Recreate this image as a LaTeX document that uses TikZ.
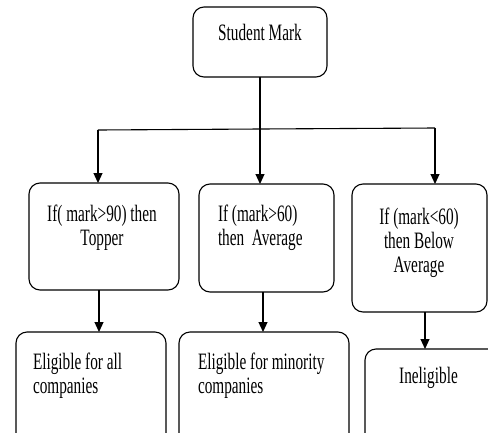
\documentclass[tikz,border=0pt]{standalone}
\usepackage{fontspec}
\setmainfont{Liberation Serif}
\newfontfamily\tallserif[FakeStretch=0.65]{Liberation Serif}
\usetikzlibrary{arrows.meta}
\begin{document}
\begin{tikzpicture}[x=1pt,y=-1pt,
  box/.style={draw,line width=1.1pt,rounded corners=11pt,inner sep=0pt,outer sep=0pt,fill=white},
  lbl/.style={font=\tallserif\fontsize{23.5}{24}\selectfont,inner sep=0pt,outer sep=0pt},
  conn/.style={line width=1.1pt},
  arr/.style={line width=1.1pt,-{Triangle[length=10pt,width=9pt]}}]
\clip (0,0) rectangle (488,432);
\fill[white] (0,0) rectangle (488,432);
% boxes
\node[box,minimum width=134pt,minimum height=70pt] (sm) at (260,42) {};
\node[box,minimum width=150pt,minimum height=107pt] (b1) at (104,236.5) {};
\node[box,minimum width=135pt,minimum height=108pt] (b2) at (266.5,238) {};
\node[box,minimum width=135pt,minimum height=128pt] (b3) at (419.5,248) {};
\node[box,minimum width=150pt,minimum height=130pt] (e1) at (91,397) {};
\node[box,minimum width=170pt,minimum height=130pt] (e2) at (264,397) {};
\node[box,minimum width=140pt,minimum height=120pt] (e3) at (435,409) {};
% texts (base anchor = baseline of last line)
\node[lbl,anchor=base] (tsm) at (260,40) {Student Mark};
\node[lbl,anchor=base,align=center] (t1) at (102,245) {If( mark>90) then\\Topper};
\node[lbl,anchor=base west,align=left] (t2) at (218,245) {If (mark>60)\\then\ \ Average};
\node[lbl,anchor=base,align=center] (t3) at (419,272) {If (mark<60)\\then Below\\Average};
\node[lbl,anchor=base west,align=left] (te1) at (33,393) {Eligible for all\\companies};
\node[lbl,anchor=base west,align=left] (te2) at (198,393) {Eligible for minority\\companies};
\node[lbl,anchor=base] (te3) at (428.5,383) {Ineligible};
% connectors
\coordinate (jm) at (260,129);
\coordinate (jl) at (98,130);
\coordinate (jr) at (435,128);
\draw[conn] (sm.south) -- (jm);
\draw[conn] (jl) -- (jm) -- (jr);
\draw[arr] (jl) -- (jl |- b1.north);
\draw[arr] (jm) -- (jm |- b2.north);
\draw[arr] (jr) -- (jr |- b3.north);
\coordinate (d1) at (99,0);
\coordinate (d2) at (263,0);
\coordinate (d3) at (425,0);
\draw[arr] (d1 |- b1.south) -- (d1 |- e1.north);
\draw[arr] (d2 |- b2.south) -- (d2 |- e2.north);
\draw[arr] (d3 |- b3.south) -- (d3 |- e3.north);
\end{tikzpicture}
\end{document}
